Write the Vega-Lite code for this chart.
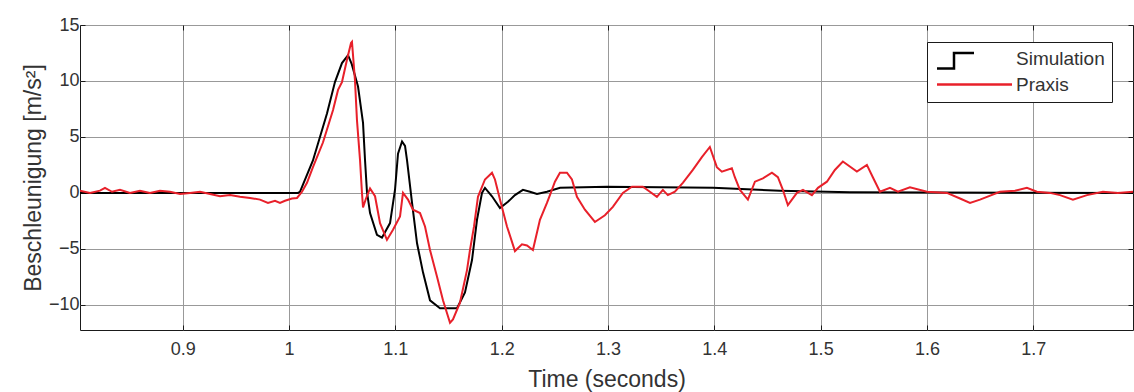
{
 "$schema": "https://vega.github.io/schema/vega-lite/v6.json",
 "width": 1053, "height": 305,
 "autosize": {"type": "none"},
 "padding": {"left": 80, "top": 25, "right": 1, "bottom": 62},
 "background": "white",
 "config": {
  "view": {"stroke": "#1a1a1a", "strokeWidth": 1},
  "font": "Liberation Sans",
  "axis": {"labelFont": "Liberation Sans", "titleFont": "Liberation Sans", "labelColor": "#333", "titleColor": "#333", "labelFontSize": 18, "titleFontSize": 23, "titleFontWeight": "normal", "gridColor": "#999", "gridOpacity": 1, "gridWidth": 1, "domain": false, "tickColor": "#1a1a1a", "tickSize": -5, "tickWidth": 1}
 },
 "data": {"values": [
  {"t": 0.8034, "a": 0, "s": "Simulation"},
  {"t": 1.0084, "a": 0, "s": "Simulation"},
  {"t": 1.0103, "a": 0.1, "s": "Simulation"},
  {"t": 1.0225, "a": 2.9, "s": "Simulation"},
  {"t": 1.0357, "a": 7.1, "s": "Simulation"},
  {"t": 1.0432, "a": 9.9, "s": "Simulation"},
  {"t": 1.0498, "a": 11.6, "s": "Simulation"},
  {"t": 1.0555, "a": 12.3, "s": "Simulation"},
  {"t": 1.059, "a": 11.5, "s": "Simulation"},
  {"t": 1.0649, "a": 9.5, "s": "Simulation"},
  {"t": 1.0696, "a": 6.25, "s": "Simulation"},
  {"t": 1.0715, "a": 2.9, "s": "Simulation"},
  {"t": 1.0733, "a": 0.1, "s": "Simulation"},
  {"t": 1.0762, "a": -1.8, "s": "Simulation"},
  {"t": 1.0827, "a": -3.75, "s": "Simulation"},
  {"t": 1.0874, "a": -4.0, "s": "Simulation"},
  {"t": 1.095, "a": -2.7, "s": "Simulation"},
  {"t": 1.0997, "a": 0.3, "s": "Simulation"},
  {"t": 1.1025, "a": 3.5, "s": "Simulation"},
  {"t": 1.1063, "a": 4.6, "s": "Simulation"},
  {"t": 1.1091, "a": 4.2, "s": "Simulation"},
  {"t": 1.111, "a": 2.9, "s": "Simulation"},
  {"t": 1.1157, "a": -0.9, "s": "Simulation"},
  {"t": 1.1204, "a": -4.5, "s": "Simulation"},
  {"t": 1.126, "a": -7.1, "s": "Simulation"},
  {"t": 1.1326, "a": -9.6, "s": "Simulation"},
  {"t": 1.142, "a": -10.3, "s": "Simulation"},
  {"t": 1.158, "a": -10.3, "s": "Simulation"},
  {"t": 1.1655, "a": -8.9, "s": "Simulation"},
  {"t": 1.1721, "a": -6, "s": "Simulation"},
  {"t": 1.1768, "a": -2.4, "s": "Simulation"},
  {"t": 1.1815, "a": 0, "s": "Simulation"},
  {"t": 1.1843, "a": 0.45, "s": "Simulation"},
  {"t": 1.1909, "a": -0.3, "s": "Simulation"},
  {"t": 1.1984, "a": -1.35, "s": "Simulation"},
  {"t": 1.2059, "a": -0.8, "s": "Simulation"},
  {"t": 1.2125, "a": -0.2, "s": "Simulation"},
  {"t": 1.22, "a": 0.27, "s": "Simulation"},
  {"t": 1.2266, "a": 0.1, "s": "Simulation"},
  {"t": 1.2332, "a": -0.1, "s": "Simulation"},
  {"t": 1.2426, "a": 0.1, "s": "Simulation"},
  {"t": 1.2549, "a": 0.45, "s": "Simulation"},
  {"t": 1.2991, "a": 0.55, "s": "Simulation"},
  {"t": 1.3988, "a": 0.45, "s": "Simulation"},
  {"t": 1.4618, "a": 0.2, "s": "Simulation"},
  {"t": 1.5276, "a": 0.05, "s": "Simulation"},
  {"t": 1.7938, "a": 0, "s": "Simulation"},
  {"t": 0.8034, "a": 0.2, "s": "Praxis"},
  {"t": 0.8128, "a": 0, "s": "Praxis"},
  {"t": 0.8222, "a": 0.2, "s": "Praxis"},
  {"t": 0.8269, "a": 0.45, "s": "Praxis"},
  {"t": 0.8335, "a": 0.1, "s": "Praxis"},
  {"t": 0.841, "a": 0.27, "s": "Praxis"},
  {"t": 0.8504, "a": 0, "s": "Praxis"},
  {"t": 0.8598, "a": 0.2, "s": "Praxis"},
  {"t": 0.8692, "a": 0, "s": "Praxis"},
  {"t": 0.8786, "a": 0.2, "s": "Praxis"},
  {"t": 0.888, "a": 0.1, "s": "Praxis"},
  {"t": 0.8975, "a": -0.1, "s": "Praxis"},
  {"t": 0.9069, "a": 0, "s": "Praxis"},
  {"t": 0.9163, "a": 0.1, "s": "Praxis"},
  {"t": 0.9257, "a": -0.1, "s": "Praxis"},
  {"t": 0.9351, "a": -0.3, "s": "Praxis"},
  {"t": 0.9445, "a": -0.2, "s": "Praxis"},
  {"t": 0.9539, "a": -0.35, "s": "Praxis"},
  {"t": 0.9633, "a": -0.45, "s": "Praxis"},
  {"t": 0.9727, "a": -0.6, "s": "Praxis"},
  {"t": 0.9802, "a": -0.9, "s": "Praxis"},
  {"t": 0.9868, "a": -0.7, "s": "Praxis"},
  {"t": 0.9915, "a": -0.9, "s": "Praxis"},
  {"t": 0.9962, "a": -0.7, "s": "Praxis"},
  {"t": 1.0028, "a": -0.5, "s": "Praxis"},
  {"t": 1.0075, "a": -0.45, "s": "Praxis"},
  {"t": 1.0122, "a": 0.1, "s": "Praxis"},
  {"t": 1.0169, "a": 0.9, "s": "Praxis"},
  {"t": 1.0225, "a": 2.3, "s": "Praxis"},
  {"t": 1.0319, "a": 4.5, "s": "Praxis"},
  {"t": 1.0414, "a": 7.4, "s": "Praxis"},
  {"t": 1.0461, "a": 9.2, "s": "Praxis"},
  {"t": 1.0498, "a": 9.9, "s": "Praxis"},
  {"t": 1.0545, "a": 11.9, "s": "Praxis"},
  {"t": 1.0583, "a": 13.4, "s": "Praxis"},
  {"t": 1.0592, "a": 13.5, "s": "Praxis"},
  {"t": 1.062, "a": 10.1, "s": "Praxis"},
  {"t": 1.0639, "a": 6.5, "s": "Praxis"},
  {"t": 1.0668, "a": 2.9, "s": "Praxis"},
  {"t": 1.0686, "a": 0, "s": "Praxis"},
  {"t": 1.0696, "a": -1.3, "s": "Praxis"},
  {"t": 1.0724, "a": -0.5, "s": "Praxis"},
  {"t": 1.0762, "a": 0.4, "s": "Praxis"},
  {"t": 1.0809, "a": -0.3, "s": "Praxis"},
  {"t": 1.0856, "a": -2.7, "s": "Praxis"},
  {"t": 1.0921, "a": -4.2, "s": "Praxis"},
  {"t": 1.0978, "a": -3.3, "s": "Praxis"},
  {"t": 1.1044, "a": -2.1, "s": "Praxis"},
  {"t": 1.1072, "a": 0, "s": "Praxis"},
  {"t": 1.1119, "a": -0.6, "s": "Praxis"},
  {"t": 1.1166, "a": -1.5, "s": "Praxis"},
  {"t": 1.1232, "a": -1.8, "s": "Praxis"},
  {"t": 1.1279, "a": -3, "s": "Praxis"},
  {"t": 1.1326, "a": -5.1, "s": "Praxis"},
  {"t": 1.1392, "a": -7.5, "s": "Praxis"},
  {"t": 1.1448, "a": -9.6, "s": "Praxis"},
  {"t": 1.1514, "a": -11.6, "s": "Praxis"},
  {"t": 1.1542, "a": -11.3, "s": "Praxis"},
  {"t": 1.1608, "a": -9.8, "s": "Praxis"},
  {"t": 1.1674, "a": -6.9, "s": "Praxis"},
  {"t": 1.1702, "a": -5.1, "s": "Praxis"},
  {"t": 1.174, "a": -3, "s": "Praxis"},
  {"t": 1.1777, "a": -0.35, "s": "Praxis"},
  {"t": 1.1843, "a": 1.2, "s": "Praxis"},
  {"t": 1.1909, "a": 1.8, "s": "Praxis"},
  {"t": 1.1937, "a": 1.2, "s": "Praxis"},
  {"t": 1.1984, "a": -0.6, "s": "Praxis"},
  {"t": 1.205, "a": -3, "s": "Praxis"},
  {"t": 1.2125, "a": -5.2, "s": "Praxis"},
  {"t": 1.2191, "a": -4.6, "s": "Praxis"},
  {"t": 1.2238, "a": -4.7, "s": "Praxis"},
  {"t": 1.2294, "a": -5.1, "s": "Praxis"},
  {"t": 1.236, "a": -2.4, "s": "Praxis"},
  {"t": 1.2426, "a": -0.9, "s": "Praxis"},
  {"t": 1.2454, "a": -0.2, "s": "Praxis"},
  {"t": 1.2501, "a": 1.0, "s": "Praxis"},
  {"t": 1.2548, "a": 1.8, "s": "Praxis"},
  {"t": 1.2614, "a": 1.8, "s": "Praxis"},
  {"t": 1.2661, "a": 1.2, "s": "Praxis"},
  {"t": 1.2708, "a": -0.35, "s": "Praxis"},
  {"t": 1.2783, "a": -1.5, "s": "Praxis"},
  {"t": 1.2877, "a": -2.6, "s": "Praxis"},
  {"t": 1.2971, "a": -2.0, "s": "Praxis"},
  {"t": 1.3046, "a": -1.25, "s": "Praxis"},
  {"t": 1.314, "a": 0, "s": "Praxis"},
  {"t": 1.3225, "a": 0.55, "s": "Praxis"},
  {"t": 1.3328, "a": 0.55, "s": "Praxis"},
  {"t": 1.3394, "a": 0.1, "s": "Praxis"},
  {"t": 1.346, "a": -0.35, "s": "Praxis"},
  {"t": 1.3516, "a": 0.27, "s": "Praxis"},
  {"t": 1.3563, "a": -0.2, "s": "Praxis"},
  {"t": 1.3629, "a": 0.1, "s": "Praxis"},
  {"t": 1.3704, "a": 0.9, "s": "Praxis"},
  {"t": 1.3798, "a": 2.05, "s": "Praxis"},
  {"t": 1.3883, "a": 3.2, "s": "Praxis"},
  {"t": 1.3958, "a": 4.1, "s": "Praxis"},
  {"t": 1.4024, "a": 2.3, "s": "Praxis"},
  {"t": 1.4071, "a": 1.9, "s": "Praxis"},
  {"t": 1.4165, "a": 2.2, "s": "Praxis"},
  {"t": 1.4193, "a": 1.4, "s": "Praxis"},
  {"t": 1.4241, "a": 0.27, "s": "Praxis"},
  {"t": 1.4316, "a": -0.6, "s": "Praxis"},
  {"t": 1.4382, "a": 1.0, "s": "Praxis"},
  {"t": 1.4457, "a": 1.3, "s": "Praxis"},
  {"t": 1.4542, "a": 1.8, "s": "Praxis"},
  {"t": 1.4598, "a": 1.4, "s": "Praxis"},
  {"t": 1.4645, "a": 0.27, "s": "Praxis"},
  {"t": 1.4692, "a": -1.1, "s": "Praxis"},
  {"t": 1.4777, "a": 0, "s": "Praxis"},
  {"t": 1.4834, "a": 0.27, "s": "Praxis"},
  {"t": 1.4918, "a": -0.2, "s": "Praxis"},
  {"t": 1.4975, "a": 0.45, "s": "Praxis"},
  {"t": 1.5059, "a": 1.0, "s": "Praxis"},
  {"t": 1.5134, "a": 2.05, "s": "Praxis"},
  {"t": 1.5209, "a": 2.8, "s": "Praxis"},
  {"t": 1.5341, "a": 1.9, "s": "Praxis"},
  {"t": 1.5435, "a": 2.5, "s": "Praxis"},
  {"t": 1.5491, "a": 1.4, "s": "Praxis"},
  {"t": 1.5558, "a": 0.1, "s": "Praxis"},
  {"t": 1.5652, "a": 0.45, "s": "Praxis"},
  {"t": 1.5727, "a": 0.1, "s": "Praxis"},
  {"t": 1.584, "a": 0.5, "s": "Praxis"},
  {"t": 1.6, "a": 0.1, "s": "Praxis"},
  {"t": 1.6188, "a": 0, "s": "Praxis"},
  {"t": 1.6311, "a": -0.5, "s": "Praxis"},
  {"t": 1.6405, "a": -0.9, "s": "Praxis"},
  {"t": 1.6499, "a": -0.6, "s": "Praxis"},
  {"t": 1.6565, "a": -0.35, "s": "Praxis"},
  {"t": 1.6686, "a": 0.1, "s": "Praxis"},
  {"t": 1.6828, "a": 0.2, "s": "Praxis"},
  {"t": 1.694, "a": 0.45, "s": "Praxis"},
  {"t": 1.7034, "a": 0.1, "s": "Praxis"},
  {"t": 1.7157, "a": 0, "s": "Praxis"},
  {"t": 1.7251, "a": -0.2, "s": "Praxis"},
  {"t": 1.7373, "a": -0.6, "s": "Praxis"},
  {"t": 1.7505, "a": -0.2, "s": "Praxis"},
  {"t": 1.7655, "a": 0.1, "s": "Praxis"},
  {"t": 1.7796, "a": 0, "s": "Praxis"},
  {"t": 1.7938, "a": 0.1, "s": "Praxis"}
 ]},
 "layer": [
  {
   "mark": {"type": "line", "strokeWidth": 2, "clip": true},
   "encoding": {
    "x": {"field": "t", "type": "quantitative",
     "scale": {"domain": [0.8034, 1.7938], "nice": false, "zero": false},
     "axis": {"orient": "bottom", "values": [0.9, 1.0, 1.1, 1.2, 1.3, 1.4, 1.5, 1.6, 1.7], "format": ".1~f", "title": "Time (seconds)", "labelPadding": 15, "titlePadding": 10}},
    "y": {"field": "a", "type": "quantitative",
     "scale": {"domain": [-12.25, 15], "nice": false, "zero": false},
     "axis": {"orient": "left", "values": [-10, -5, 0, 5, 10, 15], "title": "Beschleunigung [m/s²]", "labelPadding": 6, "titlePadding": 3}},
    "color": {"field": "s", "type": "nominal",
     "scale": {"domain": ["Simulation", "Praxis"], "range": ["#000000", "#e8202a"]},
     "legend": {"orient": "none", "legendX": 847, "legendY": 17, "title": null, "padding": 7,
      "strokeColor": "#1a1a1a", "fillColor": "white", "cornerRadius": 0,
      "labelFont": "Liberation Sans", "labelFontSize": 19, "labelColor": "#333",
      "symbolSize": 100, "symbolStrokeWidth": 2.5, "labelOffset": 63, "rowPadding": 1,
      "encode": {"symbols": {"update": {
       "shape": {"signal": "datum.value === 'Simulation' ? 'M-1.3,2H2.1V-1.1H6.1' : 'M-1.3,0H13.7'"},
       "fill": {"value": "transparent"}}}}}}
   }
  },
  {
   "mark": {"type": "point", "opacity": 0},
   "encoding": {
    "x": {"field": "t", "type": "quantitative",
     "axis": {"orient": "top", "labels": false, "title": null, "grid": false, "values": [0.9, 1.0, 1.1, 1.2, 1.3, 1.4, 1.5, 1.6, 1.7]}},
    "y": {"field": "a", "type": "quantitative",
     "axis": {"orient": "right", "labels": false, "title": null, "grid": false, "values": [-10, -5, 0, 5, 10, 15]}}
   }
  }
 ],
 "resolve": {"axis": {"x": "independent", "y": "independent"}}
}
